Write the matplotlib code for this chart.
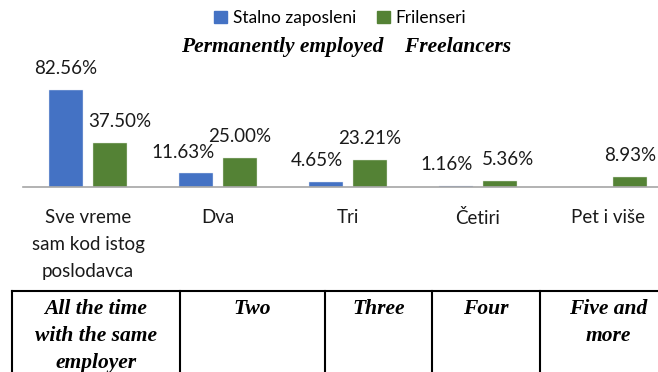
import matplotlib.pyplot as plt
from matplotlib.lines import Line2D
from matplotlib.patches import Patch

categories = ["Sve vreme\nsam kod istog\nposlodavca", "Dva", "Tri", "Četiri", "Pet i više"]
english = ["All the time\nwith the same\nemployer", "Two", "Three", "Four", "Five and\nmore"]
stalno = [82.56, 11.63, 4.65, 1.16, 0.0]
frilenseri = [37.50, 25.00, 23.21, 5.36, 8.93]
series_names = ["Stalno zaposleni", "Frilenseri"]
series_names_en = "Permanently employed    Freelancers"

blue = "#4472C4"
green = "#548235"
W, H = 658, 372

fig = plt.figure(figsize=(W / 100, H / 100), dpi=100)

# chart area (pixel layout converted to figure fractions)
left, right, base, top = 23, 673, 187, 69.5
ax = fig.add_axes([left / W, (H - base) / H, (right - left) / W, (base - top) / H])
x = range(len(categories))
bw = 0.26
off = 0.17
b1 = ax.bar([i - off for i in x], stalno, bw, color=blue, edgecolor="#dfe6f3", linewidth=0.3)
b2 = ax.bar([i + off for i in x], frilenseri, bw, color=green, edgecolor="#dbe5d4", linewidth=0.3)
ax.set_xlim(-0.5, 4.5)
ax.set_ylim(0, 100)

# value labels, nudged sideways where neighbours get close
nudge1 = [0, -9, -6.5, -7, 0]
nudge2 = [7, 0, 0, 6, 0]
for bars, vals, nudge in ((b1, stalno, nudge1), (b2, frilenseri, nudge2)):
    for rect, v, dx in zip(bars, vals, nudge):
        if v == 0:
            continue
        ax.annotate(f"{v:.2f}%", (rect.get_x() + rect.get_width() / 2, v),
                    xytext=(dx, 9), textcoords="offset points",
                    ha="center", va="bottom", fontsize=13.5, family="Lato", color="#1a1a1a")

for s in ("top", "right", "left"):
    ax.spines[s].set_visible(False)
ax.spines["bottom"].set_color("#a6a6a6")
ax.spines["bottom"].set_linewidth(1.2)
ax.set_yticks([])
ax.set_xticks(list(x))
ax.set_xticklabels(categories, fontsize=13.5, family="Lato", linespacing=1.72, color="#1a1a1a")
ax.tick_params(axis="x", length=0, pad=16)

# legend
handles = [Patch(color=blue), Patch(color=green)]
fig.legend(handles, series_names, loc="center", bbox_to_anchor=(340 / W, 1 - 18 / H),
           ncol=2, frameon=False, prop={"family": "Lato", "size": 12.5},
           handlelength=0.75, handleheight=0.75, handletextpad=0.3, columnspacing=1.2)
fig.text(346 / W, 1 - 47 / H, series_names_en, ha="center", va="center",
         fontsize=15.5, family="Liberation Serif", style="italic", weight="bold")

# english table below the chart
tab = fig.add_axes([0, 0, 1, 1])
tab.set_xlim(0, W)
tab.set_ylim(H, 0)
tab.axis("off")
col_edges = [12, 180, 325, 432, 540, 676]
t_top, t_bottom = 291, H + 5
tab.add_line(Line2D([col_edges[0], col_edges[-1]], [t_top, t_top], color="black", lw=1.5))
for xe in col_edges:
    tab.add_line(Line2D([xe, xe], [t_top, t_bottom], color="black", lw=1.5))
for i, label in enumerate(english):
    cx = (col_edges[i] + col_edges[i + 1]) / 2
    tab.text(cx, 299.5, label, ha="center", va="top", fontsize=15.5,
             family="Liberation Serif", style="italic", weight="bold", linespacing=1.45)

fig.savefig("out.png", dpi=100)
